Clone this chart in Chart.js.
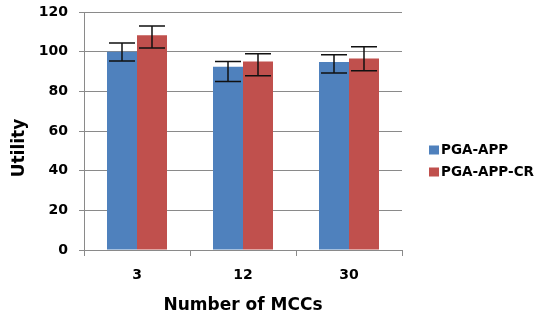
<!DOCTYPE html>
<html>
<head>
<meta charset="UTF-8">
<title>Utility vs MCCs</title>
<script src="https://cdn.jsdelivr.net/npm/chart.js"></script>
<style>
  body { margin: 0; background: #fff; }
  #wrap { width: 543px; height: 322px; }
</style>
</head>
<body>
<div id="wrap"><canvas id="chart"></canvas></div>
<script>
  // data
  const mccs = ['3', '12', '30'];
  const pgaApp = [100, 92.4, 94.8];
  const pgaAppLow = [95.3, 84.9, 89.2];
  const pgaAppHigh = [104.4, 95.1, 98.4];
  const pgaAppCr = [108.3, 95, 96.6];
  const pgaAppCrLow = [101.9, 87.9, 90.4];
  const pgaAppCrHigh = [113, 99, 102.5];
  const yMin = 0, yMax = 120, yStep = 20;

  const FONT = 'DejaVu Sans';
  const grey = '#8a8a8a';

  // error bars from the low/high arrays
  const errorBars = {
    id: 'errorBars',
    afterDatasetsDraw(chart) {
      const ctx = chart.ctx;
      const y = chart.scales.y;
      chart.data.datasets.forEach((ds, i) => {
        chart.getDatasetMeta(i).data.forEach((bar, j) => {
          const top = y.getPixelForValue(ds.high[j]);
          const bot = y.getPixelForValue(ds.low[j]);
          const half = 13;
          ctx.save();
          ctx.strokeStyle = '#111';
          ctx.lineWidth = 1.5;
          ctx.beginPath();
          ctx.moveTo(bar.x, top); ctx.lineTo(bar.x, bot);
          ctx.moveTo(bar.x - half, top); ctx.lineTo(bar.x + half, top);
          ctx.moveTo(bar.x - half, bot); ctx.lineTo(bar.x + half, bot);
          ctx.stroke();
          ctx.restore();
        });
      });
    }
  };

  // y title and legend on the right
  const extras = {
    id: 'extras',
    afterDraw(chart) {
      const ctx = chart.ctx;
      ctx.save();
      ctx.fillStyle = '#000';
      ctx.font = 'bold 17px "' + FONT + '"';
      ctx.textAlign = 'center';
      ctx.textBaseline = 'middle';
      ctx.translate(20, 148);
      ctx.rotate(-Math.PI / 2);
      ctx.fillText('Utility', 0, 0);
      ctx.restore();

      ctx.save();
      ctx.font = 'bold 13.5px "' + FONT + '"';
      ctx.textBaseline = 'middle';
      chart.data.datasets.forEach((ds, i) => {
        const yy = 150 + i * 22;
        ctx.fillStyle = ds.backgroundColor;
        ctx.fillRect(429, yy - 4.5, 10, 9);
        ctx.fillStyle = '#000';
        ctx.fillText(ds.label, 441, yy);
      });
      ctx.restore();
    }
  };

  new Chart(document.getElementById('chart'), {
    type: 'bar',
    data: {
      labels: mccs,
      datasets: [
        { label: 'PGA-APP', data: pgaApp, low: pgaAppLow, high: pgaAppHigh, backgroundColor: '#4f81bd' },
        { label: 'PGA-APP-CR', data: pgaAppCr, low: pgaAppCrLow, high: pgaAppCrHigh, backgroundColor: '#c0504d' }
      ]
    },
    options: {
      responsive: true,
      maintainAspectRatio: false,
      animation: false,
      layout: { padding: { left: 0, right: 141, top: 12, bottom: 0 } },
      plugins: { legend: { display: false }, tooltip: { enabled: false } },
      datasets: { bar: { categoryPercentage: 0.566, barPercentage: 1.0 } },
      scales: {
        x: {
          grid: { display: true, drawOnChartArea: false, drawTicks: true, tickLength: 6, color: grey, offset: true },
          border: { color: grey, width: 1 },
          ticks: { color: '#000', font: { family: FONT, size: 14, weight: 'bold' }, padding: 11 },
          title: { display: true, text: 'Number of MCCs', color: '#000', font: { family: FONT, size: 17, weight: 'bold' }, padding: { top: 0, bottom: 6 } },
          afterFit(scale) { scale.height = 72; scale.paddingLeft = 0; scale.paddingRight = 0; }
        },
        y: {
          min: yMin, max: yMax,
          grid: { color: grey, tickLength: 5 },
          border: { color: grey, width: 1 },
          ticks: { stepSize: yStep, color: '#000', font: { family: FONT, size: 14, weight: 'bold' }, padding: 11 },
          afterFit(scale) { scale.width = 84; scale.paddingTop = 0; scale.paddingBottom = 0; }
        }
      }
    },
    plugins: [errorBars, extras]
  });
</script>
</body>
</html>
